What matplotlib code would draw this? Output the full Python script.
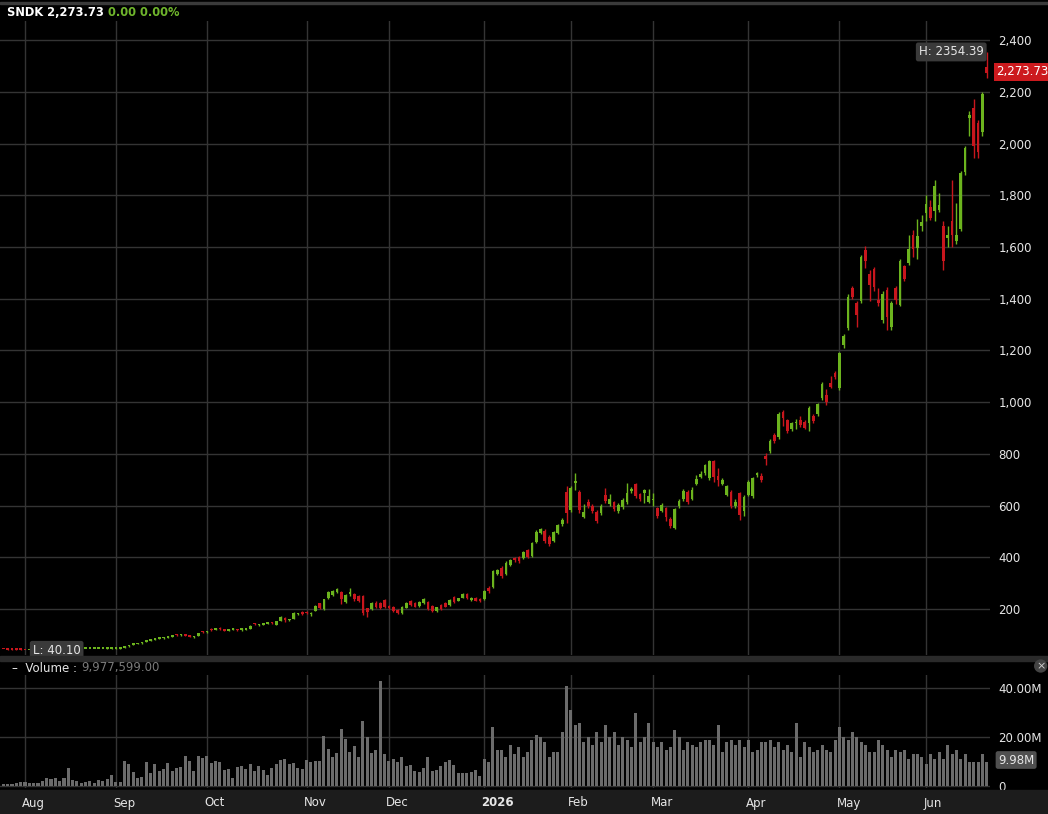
import numpy as np
import matplotlib
matplotlib.use("Agg")
import matplotlib.pyplot as plt
from matplotlib.patches import Rectangle

# ---- data ----
opens = [45, 44.5, 43.5, 43, 42.5, 42, 41, 42, 42.3, 42.8, 43, 43.3, 43.6, 43.9, 44.1, 44.3, 44.6, 44.8, 45, 45.2,
         45.4, 45.6, 45.8, 46, 46.2, 46.4, 46.6, 46.5, 49, 55, 61, 64, 66.5, 72, 78, 80.5, 84, 86, 88.5, 93,
         101, 98.5, 101.5, 96, 90.5, 96, 114, 109.5, 124, 118, 127, 121, 116.5, 120.5, 122, 117, 120, 124, 145, 137,
         139, 142, 147, 139, 155, 167, 157, 163, 179, 190, 190, 179, 193, 222, 199, 241, 254, 264, 267, 228,
         258, 257, 250, 250, 202, 199, 225, 224, 234, 207, 209, 196, 183, 205, 232, 222, 212, 222, 228, 212,
         193, 215, 225, 215, 247, 232, 244, 257, 236, 241, 238, 237, 282, 284, 336, 358, 335, 372, 396, 400,
         396, 428, 405, 460, 494, 503, 480, 464, 495, 528, 654, 582, 688, 654, 557, 612, 598, 576, 572, 640,
         606, 612, 578, 594, 612, 656, 682, 643, 650, 615, 620, 589, 580, 589, 548, 514, 598, 624, 652, 626,
         682, 712, 725, 705, 773, 714, 684, 641, 654, 598, 647, 580, 641, 637, 718, 714, 790, 812, 873, 864,
         963, 930, 896, 918, 930, 924, 920, 947, 953, 1017, 1027, 1073, 1114, 1054, 1221, 1286, 1440, 1382, 1392, 1588,
         1495, 1515, 1395, 1318, 1433, 1292, 1440, 1376, 1526, 1537, 1646, 1595, 1681, 1730, 1753, 1740, 1743, 1682, 1634, 1702,
         1624, 1669, 1891, 2100, 2136, 2078, 2046, 2297]
highs = [46, 45, 44.5, 44, 43.5, 42.8, 42.5, 43, 43.2, 43.8, 44, 44.2, 44.5, 44.8, 45, 45.3, 45.5, 45.8, 46, 46.2,
         46.4, 46.6, 46.8, 47, 47.2, 47.4, 47.6, 48.5, 55, 62, 66, 68, 71.5, 80, 82, 86, 87.5, 90, 95, 97.5,
         103, 104, 103, 97.5, 95, 108, 116, 116, 126, 128, 129, 123, 123, 125.5, 124, 127, 124, 137, 147, 141,
         147, 147, 149, 154, 171, 169, 163, 187, 186, 192, 192, 187, 215, 225, 240, 270, 272, 282, 270, 258,
         280, 262, 253, 255, 205, 228, 230, 228, 240, 215, 212, 200, 212, 228, 236, 226, 231, 241, 232, 216,
         209, 218, 228, 238, 252, 244, 260, 260, 245, 245, 241, 273, 290, 352, 356, 365, 384, 395, 402, 406,
         425, 432, 458, 505, 515, 510, 485, 503, 530, 552, 674, 676, 725, 662, 605, 625, 605, 582, 605, 667,
         645, 618, 610, 628, 688, 670, 688, 648, 665, 665, 650, 595, 608, 595, 555, 592, 625, 665, 660, 672,
         720, 735, 762, 775, 778, 747, 708, 680, 660, 625, 652, 640, 700, 712, 730, 725, 805, 858, 880, 960,
         970, 935, 925, 935, 945, 930, 985, 955, 995, 1078, 1050, 1101, 1122, 1195, 1262, 1420, 1448, 1390, 1570, 1602,
         1510, 1522, 1440, 1430, 1445, 1390, 1450, 1552, 1532, 1645, 1665, 1710, 1722, 1800, 1780, 1860, 1810, 1700, 1680, 1860,
         1770, 1895, 1990, 2125, 2174, 2090, 2200, 2354.39]
lows = [43.5, 42.5, 42, 41.5, 41, 40.5, 40.1, 41.5, 41.8, 42.2, 42.5, 42.8, 43, 43.3, 43.6, 43.8, 44, 44.2, 44.5, 44.7,
        44.9, 45.1, 45.3, 45.5, 45.7, 45.9, 46.1, 45.8, 48.5, 54, 60, 63, 65.5, 71, 76.5, 79.5, 82, 84.5, 87.5, 91,
        96.5, 97, 95.5, 90, 88.5, 95, 108.5, 108, 115, 117, 120, 114.5, 115, 119, 115.5, 116, 118, 123, 138, 133,
        138, 140, 142, 138, 154, 150, 153, 161, 176, 178, 180, 171, 191, 200, 197, 238, 250, 260, 218, 224,
        250, 232, 228, 178, 168, 195, 205, 200, 203, 198, 190, 180, 180, 202, 212, 206, 209, 220, 196, 190,
        190, 196, 206, 212, 225, 229, 241, 238, 232, 229, 226, 235, 262, 280, 330, 320, 330, 368, 383, 378,
        392, 396, 400, 455, 490, 455, 445, 460, 490, 522, 531, 575, 660, 570, 550, 590, 570, 532, 565, 610,
        600, 580, 572, 588, 606, 650, 628, 618, 610, 610, 600, 550, 575, 540, 515, 510, 592, 618, 605, 620,
        678, 708, 720, 700, 690, 675, 680, 635, 590, 592, 545, 560, 636, 630, 712, 690, 757, 805, 840, 858,
        907, 880, 890, 895, 905, 895, 890, 920, 945, 1010, 990, 1055, 1090, 1045, 1210, 1280, 1400, 1290, 1385, 1520,
        1390, 1430, 1370, 1305, 1280, 1280, 1380, 1370, 1470, 1530, 1560, 1555, 1660, 1700, 1705, 1700, 1735, 1510, 1600, 1600,
        1612, 1660, 1880, 2030, 1943, 1943, 2030, 2252]
closes = [44, 43, 42.8, 42, 41.5, 41, 42, 42.5, 43, 43.4, 43.6, 44, 44.2, 44.5, 44.7, 45, 45.2, 45.4, 45.6, 45.8,
          46, 46.2, 46.4, 46.6, 46.8, 47, 47.2, 48, 54, 61, 64.5, 66.5, 70.5, 78.5, 80.5, 84, 85.5, 88.5, 93, 95.5,
          98.5, 102.5, 96.5, 91.5, 93.5, 106.5, 110, 114.5, 117, 126, 121.5, 116, 121, 123.5, 117, 125, 122.5, 134, 140.5, 138.5,
          144.5, 145, 144, 152, 169, 156, 161, 185, 181, 181, 183, 185, 213, 203, 237, 267, 269, 279, 237, 254,
          262, 237, 232, 185, 189, 224, 209, 205, 206, 205, 194, 183, 209, 225, 215, 209, 228, 238, 199, 193,
          206, 199, 209, 235, 228, 241, 257, 241, 239, 232, 229, 270, 268, 348, 350, 328, 379, 390, 388, 385,
          420, 400, 454, 499, 508, 462, 452, 499, 525, 546, 572, 668, 694, 582, 576, 598, 578, 540, 600, 616,
          626, 588, 602, 622, 647, 665, 636, 625, 660, 637, 621, 558, 602, 557, 522, 586, 619, 658, 614, 660,
          701, 721, 757, 773, 712, 700, 700, 676, 600, 615, 565, 634, 692, 705, 724, 697, 780, 851, 848, 953,
          938, 889, 920, 922, 910, 900, 978, 928, 991, 1070, 1000, 1060, 1097, 1189, 1256, 1408, 1408, 1337, 1562, 1547,
          1453, 1446, 1383, 1420, 1330, 1382, 1396, 1546, 1476, 1592, 1592, 1644, 1698, 1765, 1711, 1836, 1762, 1545, 1645, 1646,
          1646, 1887, 1981, 2110, 1990, 1968, 2190, 2273.73]
# volume in millions of shares
volumes = [1.0, 1.0, 1.0, 1.5, 1.9, 1.9, 1.5, 1.5, 1.5, 2.3, 3.5, 3.0, 3.5, 2.3, 3.5, 7.5, 2.6, 2.2, 1.5, 1.9,
           2.3, 1.5, 2.7, 2.3, 3.1, 4.4, 1.9, 1.9, 10.3, 9.1, 6.0, 3.5, 3.9, 9.9, 5.6, 9.1, 6.4, 7.1, 9.5, 6.4,
           7.6, 8.0, 12.4, 10.3, 6.4, 12.4, 11.7, 12.5, 9.6, 10.3, 9.9, 6.6, 7.1, 3.5, 8.0, 8.4, 7.1, 9.1, 6.4, 8.4,
           6.6, 4.4, 7.6, 9.1, 10.7, 11.1, 9.1, 9.5, 7.6, 7.1, 10.7, 10.1, 10.3, 10.3, 20.5, 15.2, 11.9, 13.6, 23.4, 19.3,
           14.0, 16.4, 11.9, 26.6, 20.1, 13.6, 14.8, 42.9, 13.2, 10.3, 11.1, 9.9, 11.9, 8.4, 8.7, 6.3, 5.8, 7.5, 11.9, 6.3,
           6.6, 8.4, 9.9, 10.7, 8.7, 5.4, 5.4, 5.4, 6.0, 6.6, 4.2, 11.1, 9.9, 24.3, 14.8,
           15, 12, 17, 13, 16, 12, 14, 19, 21, 20, 18, 12, 14, 14, 22, 41, 31, 25, 26, 18,
           20, 17, 22, 18, 25, 20, 22, 17, 20, 19, 16, 30, 18, 20, 26, 18, 16, 18, 15, 16,
           23, 20, 15, 18, 17, 16, 18, 19, 19, 17, 25, 14, 18, 19, 17, 19, 16, 19, 14, 15,
           18, 18, 19, 16, 18, 15, 17, 14, 26, 12, 18, 16, 14, 15, 17, 15, 14, 19, 24, 20,
           19, 22, 20, 18, 17, 14, 14, 19, 17, 15, 12, 15, 14, 15, 11, 13, 13, 12, 9, 13,
           11, 14, 11, 17, 13, 15, 11, 13, 10, 10, 10, 13, 9.98]
month_labels = ["Aug", "Sep", "Oct", "Nov", "Dec", "2026", "Feb", "Mar", "Apr", "May", "Jun"]
month_start = [5, 26, 47, 70, 89, 111, 131, 150, 172, 193, 213]   # trading-day index of 1st session
price_ticks = [200, 400, 600, 800, 1000, 1200, 1400, 1600, 1800, 2000, 2200, 2400]
vol_ticks = [0, 20, 40]

# ---- style ----
W, H = 1048, 814
BG = "#000000"
GRID = "#343434"
UP = "#6cb41e"
DOWN = "#c8161d"
VOLC = "#6b6b6b"
TXT = "#e6e6e6"
plt.rcParams["font.family"] = ["DejaVu Sans"]


def fx(x):
    return x / W


def fy(y):
    return 1 - y / H


fig = plt.figure(figsize=(W / 100, H / 100), dpi=100, facecolor=BG)

# bands: top line, panel separator, date strip
fig.patches.append(Rectangle((0, fy(4)), 1, 1.5 / H, transform=fig.transFigure, color="#3a3a3a", zorder=0))
fig.patches.append(Rectangle((0, fy(661)), 1, 5 / H, transform=fig.transFigure, color="#2a2a2a", zorder=0))
fig.patches.append(Rectangle((0, 0), 1, 24 / H, transform=fig.transFigure, color="#1c1c1c", zorder=0))

ax = fig.add_axes([0, fy(655), fx(990), (655 - 21) / H], facecolor=BG)
axv = fig.add_axes([0, fy(788), fx(990), (788 - 675) / H], facecolor=BG)

o = np.array(opens, dtype=float)
h = np.array(highs, dtype=float)
l = np.array(lows, dtype=float)
c = np.array(closes, dtype=float)
idx = np.arange(len(c))
colors = np.where(c >= o, UP, DOWN)

# candles
ax.vlines(idx, l, h, colors=colors, linewidth=1, zorder=3)
body_lo = np.minimum(o, c)
body_h = np.maximum(np.abs(c - o), 6)
ax.bar(idx, body_h, bottom=body_lo, width=0.62, color=colors, linewidth=0, zorder=4)

# volume
axv.bar(idx, volumes, width=0.7, color=VOLC, linewidth=0, zorder=3)

for a in (ax, axv):
    a.set_xlim(-0.77, 227.76)
    for s in a.spines.values():
        s.set_visible(False)
    a.set_xticks(month_start)
    a.tick_params(axis="x", length=0, labelbottom=False)
    a.grid(True, color=GRID, linewidth=1, zorder=0)
    a.yaxis.tick_right()
    a.tick_params(axis="y", length=0, pad=6, labelcolor=TXT, labelsize=8.5)

ax.set_ylim(22, 2474)
ax.set_yticks(price_ticks)
ax.set_yticklabels([f"{v:,}" for v in price_ticks])

axv.set_ylim(-0.7, 45.4)
axv.set_yticks(vol_ticks)
axv.set_yticklabels(["0", "20.00M", "40.00M"])

# month labels in the date strip
for lab, m in zip(month_labels, month_start):
    xp = ax.transData.transform((m - 0.6, 0))[0]
    fig.text(xp / W, fy(803), lab, color=TXT, fontsize=8.5,
             fontweight="bold" if lab == "2026" else "normal", ha="left", va="center")

# header
t = fig.text(fx(7), fy(12), "SNDK 2,273.73 ", color="white", fontsize=8.3, fontweight="bold", va="center")
fig.canvas.draw()
bb = t.get_window_extent()
fig.text(bb.x1 / W, fy(12), "0.00 0.00%", color="#6fb52c", fontsize=8.3, fontweight="bold", va="center")

# volume header
t2 = fig.text(fx(12), fy(668), "–  Volume : ", color=TXT, fontsize=8.5, va="center")
fig.canvas.draw()
bb2 = t2.get_window_extent()
fig.text(bb2.x1 / W, fy(668), "9,977,599.00", color="#7a7a7a", fontsize=8.5, va="center")

# price labels
box = dict(boxstyle="round,pad=0.25,rounding_size=0.2", fc="#3a3a3a", ec="none")
ax.text(226.3, 2354.39, "H: 2354.39", color=TXT, fontsize=8.5, ha="right", va="center", bbox=box, zorder=6)
ax.text(6.8, 40.10, "L: 40.10", color=TXT, fontsize=8.5, ha="left", va="center", bbox=box, zorder=6)
fig.text(fx(996), fy(72), "2,273.73", color="white", fontsize=8.5, va="center", ha="left",
         bbox=dict(boxstyle="square,pad=0.2", fc="#cc1a1e", ec="none"))
fig.text(fx(998), fy(760), "9.98M", color=TXT, fontsize=8.5, va="center", ha="left",
         bbox=dict(boxstyle="round,pad=0.2,rounding_size=0.2", fc="#505050", ec="none"))
fig.text(fx(1036), fy(666), "×", color="#cccccc", fontsize=8, va="center", ha="left",
         bbox=dict(boxstyle="circle,pad=0.15", fc="#444444", ec="none"))

fig.savefig("out.png", dpi=100, facecolor=BG)
